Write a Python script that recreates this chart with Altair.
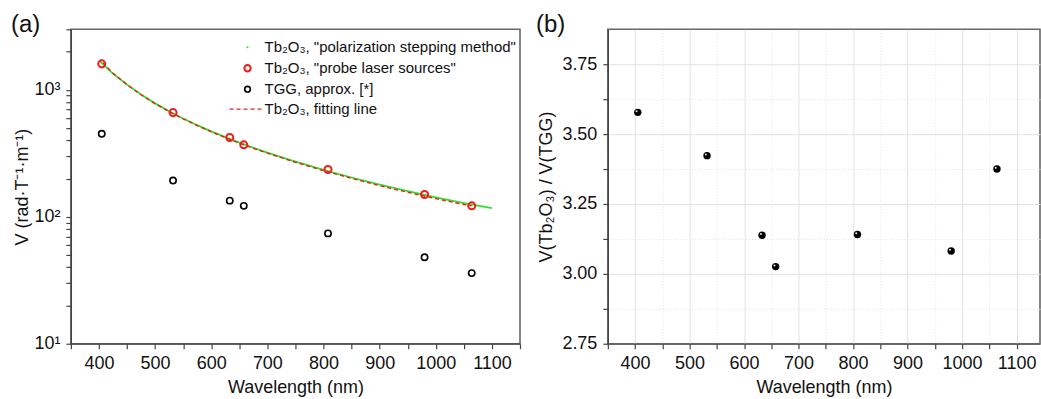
import altair as alt
import pandas as pd

# ---------------- data ----------------
wavelength = [405, 532, 633, 658, 808, 980, 1064]
v_tb2o3 = [1603, 662, 421, 369, 236, 150, 122]      # red open circles
v_tgg = [451, 193, 134, 122, 74, 48, 36]            # black open circles
ratio = [3.578, 3.423, 3.138, 3.026, 3.141, 3.082, 3.375]  # panel (b)

# "polarization stepping method" curve (green)
psm_wl = [401, 425, 450, 475, 500, 525, 550, 575, 600, 625, 650, 675, 700,
          750, 800, 850, 900, 950, 1000, 1050, 1100]
psm_v = [1690, 1345, 1100, 918, 783, 678, 595, 527, 471, 424, 384, 350, 320,
         272, 234, 204, 179, 159, 142, 128, 117]

# fitting line (red dashed)
fit_wl = [407, 425, 450, 475, 500, 525, 550, 575, 600, 625, 650, 675, 700,
          750, 800, 850, 900, 950, 1000, 1050, 1064]
fit_v = [1640, 1350, 1100, 915, 780, 675, 592, 524, 468, 421, 381, 347, 317,
         269, 231, 201, 176, 156, 139, 125, 122]

legend_labels = [
    'Tb\u2082O\u2083, "polarization stepping method"',
    'Tb\u2082O\u2083, "probe laser sources"',
    'TGG, approx. [*]',
    'Tb\u2082O\u2083, fitting line',
]

x_ticks = list(range(350, 1151, 50))
y_log_ticks = [10, 20, 30, 40, 50, 60, 70, 80, 90,
               100, 200, 300, 400, 500, 600, 700, 800, 900,
               1000, 2000, 3000]
y_lin_ticks = [2.75, 2.875, 3.0, 3.125, 3.25, 3.375, 3.5, 3.625, 3.75]

# ---------------- styling ----------------
FONT = "Liberation Sans, Arial, Helvetica, sans-serif"
GREEN = "#2ee02e"
RED = "#ee1c1c"
A_W, A_H = 450, 315
B_W, B_H = 433, 315

df_psm = pd.DataFrame({"wl": psm_wl, "v": psm_v})
df_fit = pd.DataFrame({"wl": fit_wl, "v": fit_v})
df_tb = pd.DataFrame({"wl": wavelength, "v": v_tb2o3})
df_tgg = pd.DataFrame({"wl": wavelength, "v": v_tgg})
df_ratio = pd.DataFrame({"wl": wavelength, "r": ratio})
one = pd.DataFrame({"k": [0]})

x_a = alt.X("wl:Q",
            scale=alt.Scale(domain=[350, 1150], nice=False, zero=False),
            axis=alt.Axis(values=x_ticks, format="d",
                          labelExpr="datum.value % 100 == 0 ? datum.label : ''",
                          title="Wavelength (nm)", grid=False))
y_a = alt.Y("v:Q",
            scale=alt.Scale(type="log", domain=[10, 3000], nice=False),
            axis=alt.Axis(values=y_log_ticks,
                          labelExpr="datum.value == 10 ? '10\u00b9' : datum.value == 100 ? '10\u00b2' : datum.value == 1000 ? '10\u00b3' : ''",
                          title="V (rad\u00b7T\u207b\u00b9\u00b7m\u207b\u00b9)",
                          titlePadding=2, grid=False))

green = alt.Chart(df_psm).mark_line(color=GREEN, strokeWidth=1.8).encode(x=x_a, y=y_a)
fit = alt.Chart(df_fit).mark_line(color=RED, strokeWidth=1.4, strokeDash=[4, 3]).encode(x=x_a, y=y_a)
red_pts = alt.Chart(df_tb).mark_point(shape="circle", filled=False, color=RED,
                                      strokeWidth=2, size=50, opacity=1).encode(x=x_a, y=y_a)
blk_pts = alt.Chart(df_tgg).mark_point(shape="circle", filled=False, color="black",
                                       strokeWidth=1.6, size=40, opacity=1).encode(x=x_a, y=y_a)

# legend (inside panel a, top right)
LX_SYM, LX_TXT = 177, 194
rows = [18, 39, 60, 80]
leg = []
leg.append(alt.Chart(one).mark_circle(color=GREEN, size=4, opacity=1).encode(
    x=alt.value(LX_SYM), y=alt.value(rows[0])))
leg.append(alt.Chart(one).mark_point(shape="circle", filled=False, color=RED, strokeWidth=2,
                                     size=40, opacity=1).encode(x=alt.value(LX_SYM), y=alt.value(rows[1])))
leg.append(alt.Chart(one).mark_point(shape="circle", filled=False, color="black", strokeWidth=1.6,
                                     size=32, opacity=1).encode(x=alt.value(LX_SYM), y=alt.value(rows[2])))
leg.append(alt.Chart(one).mark_rule(color=RED, strokeWidth=1.4, strokeDash=[4, 3]).encode(
    x=alt.value(159), x2=alt.value(192), y=alt.value(rows[3])))
for i, lab in enumerate(legend_labels):
    leg.append(alt.Chart(one).mark_text(text=lab, align="left", baseline="middle",
                                        fontSize=15, font=FONT, color="#111").encode(
        x=alt.value(LX_TXT), y=alt.value(rows[i])))

tag_a = alt.Chart(one).mark_text(text="(a)", align="left", baseline="middle", fontSize=24,
                                 font=FONT, color="#111").encode(x=alt.value(-60), y=alt.value(-4))

panel_a = alt.layer(green, fit, red_pts, blk_pts, *leg, tag_a).properties(width=A_W, height=A_H)

# ---------------- panel b ----------------
grid_dash_x = {"condition": {"test": "datum.value % 100 != 0", "value": [1, 2]}, "value": []}
grid_dash_y = {"condition": {"test": "datum.value % 0.25 != 0", "value": [1, 2]}, "value": []}

x_b = alt.X("wl:Q",
            scale=alt.Scale(domain=[350, 1143], nice=False, zero=False),
            axis=alt.Axis(values=x_ticks[:-1], format="d",
                          labelExpr="datum.value % 100 == 0 ? datum.label : ''",
                          title="Wavelength (nm)", grid=True, gridColor="#e2e2e2",
                          gridDash=grid_dash_x))
y_b = alt.Y("r:Q",
            scale=alt.Scale(domain=[2.75, 3.875], nice=False, zero=False),
            axis=alt.Axis(values=y_lin_ticks, format=".2f",
                          labelExpr="datum.value % 0.25 == 0 ? datum.label : ''",
                          title="V(Tb\u2082O\u2083) / V(TGG)", titlePadding=6,
                          grid=True, gridColor="#e2e2e2", gridDash=grid_dash_y))

spheres = alt.Chart(df_ratio).mark_circle(color="black", size=55, opacity=1).encode(x=x_b, y=y_b)
highlight = alt.Chart(df_ratio).mark_circle(color="white", size=4, opacity=0.9,
                                            xOffset=-1.2, yOffset=-1.2).encode(x=x_b, y=y_b)
tag_b = alt.Chart(one).mark_text(text="(b)", align="left", baseline="middle", fontSize=24,
                                 font=FONT, color="#111").encode(x=alt.value(-72), y=alt.value(-4))

panel_b = alt.layer(spheres, highlight, tag_b).properties(width=B_W, height=B_H)

chart = alt.hconcat(panel_a, panel_b, spacing=13).properties(
    padding={"left": 10, "top": 12, "right": 0, "bottom": 0},
    background="white"
).configure_view(
    stroke="#666", strokeWidth=1.6
).configure_axis(
    labelFont=FONT, titleFont=FONT, labelFontSize=18, titleFontSize=18,
    titleFontWeight="normal", labelColor="#111", titleColor="#111",
    domainColor="#444", domainWidth=1.3, tickColor="#444", tickWidth=1.2,
    tickSize=5, labelPadding=6
).configure_axisX(
    titlePadding=6
)

chart.save("out.html", embed_options={"renderer": "svg", "actions": False})
